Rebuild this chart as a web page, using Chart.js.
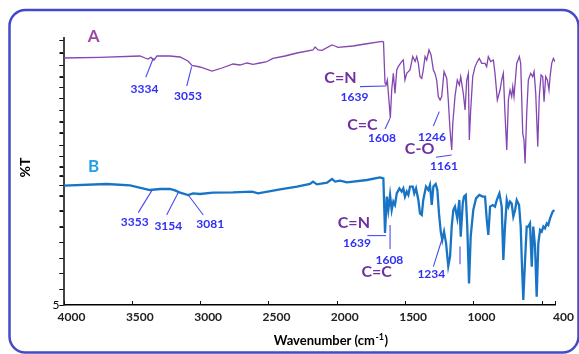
<!DOCTYPE html>
<html>
<head>
<meta charset="utf-8">
<script src="https://cdn.jsdelivr.net/npm/chart.js@4"></script>
<style>
html,body{margin:0;padding:0;background:#fff;}
canvas{display:block;}
</style>
</head>
<body>
<canvas id="c" width="579" height="354"></canvas>
<script>
// ---- data (wavenumber cm-1, %T arbitrary offset units) ----
const wnA = [4000,3733,3440,3403,3382,3360,3338,3316,3221,3147,3089,3060,3001,2913,2840,2759,2708,2657,2613,2562,2518,2467,2379,2291,2174,2159,2137,2108,2035,2013,1991,1881,1793,1669,1658,1647,1639,1630,1608,1598,1586,1574,1561,1550,1525,1513,1501,1488,1476,1464,1444,1427,1415,1403,1391,1378,1367,1354,1342,1325,1310,1293,1281,1269,1257,1244,1232,1215,1195,1184,1171,1159,1151,1135,1118,1103,1093,1074,1061,1049,1037,1030,1020,1005,988,971,957,939,915,903,891,873,854,842,825,805,793,781,769,756,744,732,720,712,703,683,664,654,639,630,622,610,598,581,566,556,544,529,518,505,493,483,471,459,447,439,427,415,403];
const tA = [123.5,123.8,124.5,123.5,123,123.8,122.5,124.5,124.5,124,122,119.8,119,117,118.5,120.5,120,121,120.3,121,121.5,123.3,124.5,126,127.5,129,127.5,127.3,130,129.5,128.8,129.5,130.5,131.8,131.5,111,110,112.5,93.5,107.5,115.8,105.8,117.5,119.2,121.7,122.5,112.5,115.8,116.7,117.5,124.2,121.7,124.2,120.8,114.2,113.3,117.5,124.2,122.5,127.5,125,117.5,115.8,112.5,104.2,102.5,104.2,116.7,113.3,102.5,87.5,77.5,90.8,104.2,112.5,110,114.2,105.8,97.5,112.5,115.8,82.5,97.5,114.2,119.2,121.7,123.3,120.8,120.8,119.2,124.2,121.7,122.5,115.8,102.5,107.5,112.5,115.8,95.8,77.5,102.5,107.5,104.2,109.2,104.2,120.8,124.2,120.8,85.8,82.5,70.8,95.8,112.5,115.8,114.2,116.7,105.8,79.2,104.2,115,114.2,101.7,114.2,112.5,107.5,114.2,120.8,123.3,121.7];

const wnB = [4000,3684,3513,3367,3294,3221,3184,3147,3087,3052,3001,2906,2759,2620,2576,2415,2291,2196,2174,2145,2071,2035,2013,1976,1925,1779,1684,1659,1647,1634,1623,1610,1598,1586,1574,1561,1542,1525,1513,1501,1488,1476,1464,1444,1433,1420,1403,1391,1378,1367,1347,1330,1318,1305,1293,1276,1264,1252,1239,1228,1215,1200,1184,1171,1159,1147,1135,1118,1103,1093,1078,1069,1056,1045,1032,1020,1001,981,957,932,915,903,891,878,859,842,829,810,793,781,769,756,744,732,720,708,695,683,666,654,646,635,622,610,598,586,573,562,549,537,525,512,500,488,476,463,452,439,420,408];
const tB = [59.7,60.5,59.8,57.5,58,58,57.3,56.2,55,55.8,55.5,56.2,56.3,56.7,55.8,57.8,59.2,60.5,61.7,60.3,61.2,63,61.7,62.2,61.3,62.5,63.8,63.3,36,54.2,47.5,55,47.5,51.7,50,55.8,58.3,56.7,58.3,54.2,56.7,55,59.2,59.2,55.8,58.3,52.5,45.8,45,52.5,59.2,57.5,60,50,59.2,60.5,57.5,45.8,36.7,32.5,36.7,30.8,19.5,24.2,39.2,47.5,49.2,43.3,52.5,34.2,50.8,54.2,55,39.2,10.8,34.2,47.5,53.3,55,54.2,54.2,43.3,35,49.2,50,49.2,52.5,55.8,49.2,22.5,39.2,52.5,49.2,51.7,50.8,44.2,47.5,52.5,50,39.2,22.5,2.5,22.5,39.2,39.2,40.8,19.2,39.2,29.2,4.2,30.8,37.5,36.7,39.2,38.3,40.8,40,43.3,46.7,47.5];

const xTickValues = [4000,3500,3000,2500,2000,1500,1000,500,400];
const yTickValues = [132.5,126.2,120,114.2,109,103.5,97.5,91.7,86.2,80,74.5,69.2,64.5,60,54.7,47.2,39.2,31.4,23.4,16,8,0];

// peak annotations: [text, wavenumber, %T]
const numLabels = [
  ['3334',3407,107.8],['3053',3089,104.3],['1639',1870,104],['1608',1669,83.5],['1246',1303,83.8],['1161',1215,69.2],
  ['3353',3479,41.3],['3154',3233,39.4],['3081',2926,40.2],['1639',1852,30.9],['1608',1615,22.5],['1234',1308,15.4]
];
const groupLabels = [
  ['C=N',1973,113.5],['C=C',1812,90.3],['C-O',1394,78.3],
  ['C=N',1875,41],['C=C',1708,16.5]
];
const seriesLabels = [['A',3780,134.4],['B',3780,69.3]];
// leader lines: [wn1, t1, wn2, t2]
const leaderLines = [
  [3398,113.9,3343,123.4],[3098,109.5,3062,119.2],[1830,109.2,1640,109.5],[1647,88,1610,93.4],
  [1293,89.5,1250,96.7],[1274,73.9,1159,75],
  [3453,46.2,3354,57.2],[3245,45,3160,56.2],[2977,45,3087,55],[1776,34.7,1640,34.7],
  [1610,28,1610,40],[1293,19.2,1232,32.5],[1098,29.2,1098,20.4]
];

const annotPlugin = {
  id: 'annot',
  afterDatasetsDraw(chart) {
    const {ctx, chartArea: ca, scales: {x, y}} = chart;
    ctx.save();
    // inward x ticks
    ctx.strokeStyle = '#111'; ctx.lineWidth = 1;
    xTickValues.forEach(v => {
      const px = Math.round(x.getPixelForValue(v)) + 0.5;
      ctx.beginPath(); ctx.moveTo(px, ca.bottom); ctx.lineTo(px, ca.bottom - 4); ctx.stroke();
    });
    // outward y ticks
    yTickValues.forEach(v => {
      const py = Math.round(y.getPixelForValue(v)) + 0.5;
      ctx.beginPath(); ctx.moveTo(ca.left - 4, py); ctx.lineTo(ca.left, py); ctx.stroke();
    });
    // leader lines
    ctx.strokeStyle = '#4b4bf2'; ctx.lineWidth = 1.1;
    leaderLines.forEach(l => {
      ctx.beginPath();
      ctx.moveTo(x.getPixelForValue(l[0]), y.getPixelForValue(l[1]));
      ctx.lineTo(x.getPixelForValue(l[2]), y.getPixelForValue(l[3]));
      ctx.stroke();
    });
    ctx.textAlign = 'center'; ctx.textBaseline = 'middle';
    ctx.font = 'bold 12px Lato';
    ctx.fillStyle = '#2f2ff5';
    numLabels.forEach(l => ctx.fillText(l[0], x.getPixelForValue(l[1]), y.getPixelForValue(l[2])));
    ctx.font = 'bold 16px Lato';
    ctx.fillStyle = '#7030a0';
    groupLabels.forEach(l => ctx.fillText(l[0], x.getPixelForValue(l[1]), y.getPixelForValue(l[2])));
    ctx.font = 'bold 17px Lato';
    ctx.fillStyle = '#9c4aa0';
    ctx.fillText(seriesLabels[0][0], x.getPixelForValue(seriesLabels[0][1]), y.getPixelForValue(seriesLabels[0][2]));
    ctx.fillStyle = '#22a0e6';
    ctx.fillText(seriesLabels[1][0], x.getPixelForValue(seriesLabels[1][1]), y.getPixelForValue(seriesLabels[1][2]));
    // axis titles
    ctx.fillStyle = '#000';
    ctx.font = 'bold 14px Lato';
    ctx.save();
    ctx.translate(ca.left - 38.5, (ca.top + ca.bottom) / 2 - 4);
    ctx.rotate(-Math.PI / 2);
    ctx.fillText('%T', 0, 0);
    ctx.restore();
    ctx.font = 'bold 13px Lato';
    ctx.textAlign = 'left';
    const t1 = 'Wavenumber (cm', t2 = '-1', t3 = ')';
    const w1 = ctx.measureText(t1).width;
    ctx.font = 'bold 9px Lato';
    const w2 = ctx.measureText(t2).width;
    ctx.font = 'bold 13px Lato';
    const w3 = ctx.measureText(t3).width;
    const total = w1 + w2 + w3 + 1;
    const cx = (ca.left + ca.right) / 2 + 21.5, ty = ca.bottom + 36;
    let sx = cx - total / 2;
    ctx.fillText(t1, sx, ty);
    ctx.font = 'bold 9px Lato';
    ctx.fillText(t2, sx + w1 + 0.5, ty - 4);
    ctx.font = 'bold 13px Lato';
    ctx.fillText(t3, sx + w1 + w2 + 1, ty);
    // frame
    ctx.strokeStyle = '#4349c8'; ctx.lineWidth = 2.5;
    ctx.beginPath();
    ctx.roundRect(9.5, 10, 569, 342.5, 16);
    ctx.stroke();
    ctx.restore();
  }
};

new Chart(document.getElementById('c'), {
  type: 'line',
  data: {
    datasets: [
      { label: 'A', data: wnA.map((w, i) => ({x: w, y: tA[i]})), borderColor: '#8446b0', borderWidth: 1.3, pointRadius: 0, tension: 0 },
      { label: 'B', data: wnB.map((w, i) => ({x: w, y: tB[i]})), borderColor: '#1874c4', borderWidth: 2.3, pointRadius: 0, tension: 0 }
    ]
  },
  options: {
    responsive: false,
    animation: false,
    devicePixelRatio: 1,
    layout: { padding: { left: 9.5, right: 23.6, top: 38, bottom: 0 } },
    plugins: { legend: { display: false }, tooltip: { enabled: false } },
    scales: {
      x: {
        type: 'linear', min: 400, max: 4000, reverse: true,
        afterBuildTicks: s => { s.ticks = xTickValues.map(v => ({value: v})); },
        afterFit: s => { s.height = 49; },
        border: { color: '#000', width: 1.5 },
        grid: { display: true, drawOnChartArea: false, drawTicks: false },
        ticks: {
          padding: 5, labelOffset: 8, maxRotation: 0, autoSkip: false,
          color: '#222', font: { family: 'Lato', size: 12, weight: 'bold' },
          callback: v => (v === 500 ? '' : String(v))
        }
      },
      y: {
        type: 'linear', min: 0, max: 133.5,
        afterBuildTicks: s => { s.ticks = yTickValues.map(v => ({value: v})); },
        afterFit: s => { s.width = 54; },
        border: { color: '#444', width: 2 },
        grid: { display: true, drawOnChartArea: false, drawTicks: true, tickLength: 4, color: '#222' },
        ticks: {
          padding: 0, autoSkip: false, color: '#000',
          font: { family: 'Lato', size: 12 },
          callback: v => (v === 0 ? '5' : '')
        }
      }
    }
  },
  plugins: [annotPlugin]
});
</script>
</body>
</html>
